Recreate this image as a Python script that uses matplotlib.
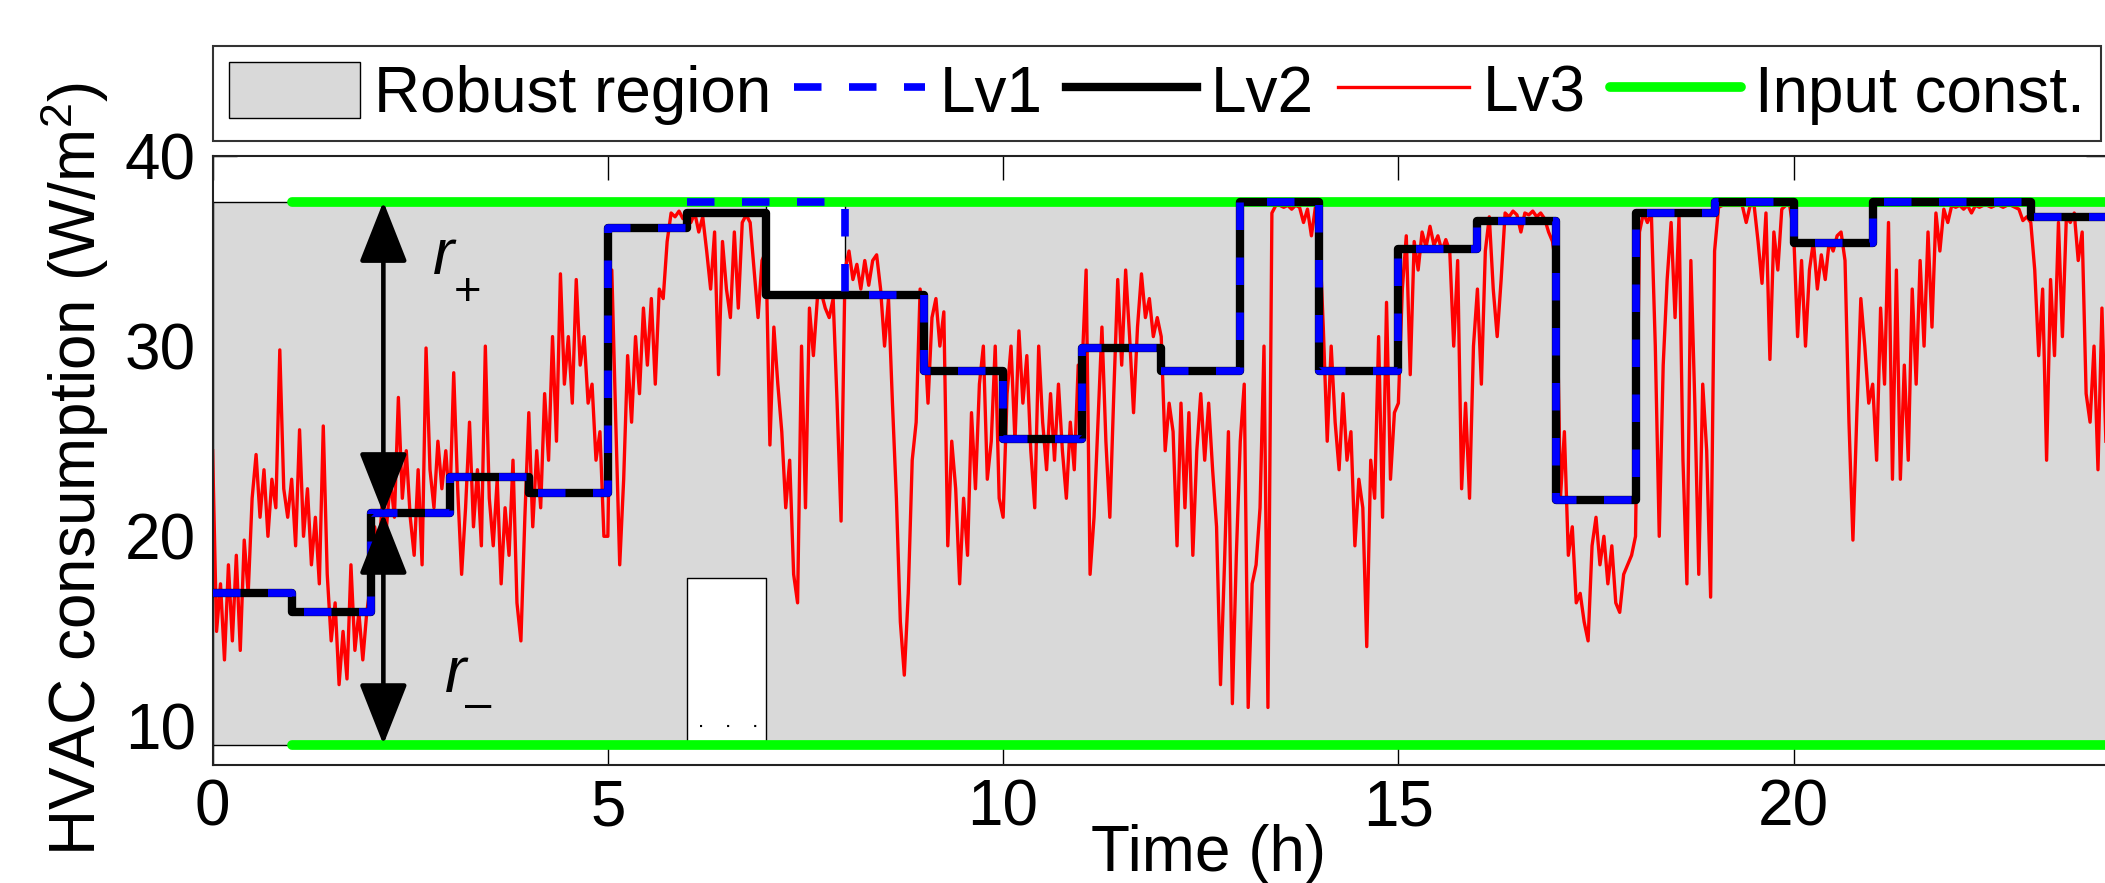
import numpy as np
import matplotlib
matplotlib.use("Agg")
from matplotlib import pyplot as plt

plt.rcParams['font.family'] = ['Liberation Sans', 'DejaVu Sans']
plt.rcParams['mathtext.fontset'] = 'custom'
plt.rcParams['mathtext.rm'] = 'Liberation Sans'
plt.rcParams['mathtext.it'] = 'Liberation Sans:italic'

# hourly set-points (one value per hour, 0..23)
hours = np.arange(25)
lv1 = [17.0, 16.0, 21.2, 23.1, 22.3, 36.2, 37.6, 37.6, 32.7, 28.7, 25.1, 29.9,
       28.7, 37.6, 28.7, 35.1, 36.6, 21.9, 37.0, 37.6, 35.4, 37.6, 37.6, 36.8]
lv2 = [17.0, 16.0, 21.2, 23.1, 22.3, 36.2, 37.0, 32.7, 32.7, 28.7, 25.1, 29.9,
       28.7, 37.6, 28.7, 35.1, 36.6, 21.9, 37.0, 37.6, 35.4, 37.6, 37.6, 36.8]

# robust region bounds per hour
region_upper = [37.6] * 7 + [32.7] + [37.6] * 16
region_lower = [9.05] * 6 + [17.8] + [9.05] * 17

# input constraints
const_t = [1, 24]
const_upper = 37.6
const_lower = 9.05

# Lv3, sampled every 3 minutes, one row per hour
lv3_rows = [
    [24.5, 15.0, 17.5, 13.5, 18.5, 14.5, 19.0, 14.0, 19.8, 17.0, 22.0, 24.3, 21.0, 23.5, 20.0, 23.0, 21.5, 29.8, 22.5, 21.0],
    [23.0, 19.5, 25.6, 20.0, 22.5, 18.5, 21.0, 17.5, 25.8, 18.0, 14.5, 16.5, 12.2, 15.0, 12.5, 18.5, 14.0, 16.0, 13.5, 16.0],
    [17.5, 20.5, 19.0, 22.0, 20.5, 23.0, 21.0, 27.3, 22.0, 24.5, 21.0, 19.0, 23.5, 18.5, 29.9, 23.5, 21.5, 25.0, 22.5, 24.5],
    [21.5, 28.6, 22.5, 18.0, 21.5, 26.0, 20.5, 23.5, 19.5, 30.0, 22.0, 19.5, 23.0, 17.5, 21.5, 19.0, 24.0, 16.5, 14.5, 21.0],
    [26.5, 20.5, 24.5, 21.5, 27.5, 24.0, 30.5, 25.0, 33.8, 28.0, 30.5, 27.0, 33.5, 29.0, 30.5, 27.0, 28.0, 24.0, 25.5, 20.0],
    [20.0, 34.0, 26.0, 18.5, 23.0, 29.5, 26.0, 30.5, 27.5, 32.0, 29.0, 32.5, 28.0, 33.0, 32.5, 35.5, 37.0, 36.8, 37.1, 36.7],
    [37.0, 36.5, 37.0, 36.0, 36.8, 35.0, 33.0, 36.0, 28.5, 35.5, 33.0, 31.5, 36.0, 32.0, 36.5, 36.9, 36.5, 34.0, 31.5, 34.5],
    [35.0, 24.8, 31.0, 28.0, 25.5, 21.5, 24.0, 18.0, 16.5, 30.0, 21.5, 32.0, 29.5, 32.5, 32.8, 32.0, 31.5, 32.5, 27.0, 20.8],
    [34.0, 35.0, 33.5, 34.3, 33.0, 34.5, 33.2, 34.5, 34.8, 33.0, 30.0, 32.5, 27.0, 22.0, 15.5, 12.7, 17.0, 24.0, 26.0, 33.0],
    [31.0, 27.0, 31.5, 32.5, 30.0, 31.8, 19.5, 25.0, 22.5, 17.5, 22.0, 19.0, 26.5, 22.5, 28.0, 30.0, 23.0, 25.0, 30.0, 22.0],
    [21.0, 27.5, 30.0, 25.0, 30.8, 27.0, 29.5, 24.5, 21.5, 30.0, 26.0, 23.5, 27.5, 24.0, 28.0, 24.5, 22.0, 26.0, 23.5, 29.0],
    [29.0, 34.0, 18.0, 21.0, 26.0, 31.0, 25.0, 21.0, 27.5, 33.5, 29.0, 34.0, 30.5, 26.5, 31.0, 33.8, 31.5, 32.5, 30.5, 31.5],
    [30.5, 24.5, 27.0, 25.5, 19.5, 27.0, 21.5, 26.5, 19.0, 24.5, 27.5, 24.0, 27.0, 23.5, 20.5, 12.2, 18.5, 25.5, 11.2, 19.0],
    [25.0, 28.0, 11.0, 17.5, 18.5, 21.5, 30.0, 11.0, 37.0, 37.4, 37.4, 37.3, 37.4, 37.2, 37.4, 37.3, 36.5, 37.2, 35.8, 37.3],
    [36.0, 31.0, 25.0, 30.0, 26.0, 23.5, 27.5, 24.0, 25.5, 19.5, 23.0, 21.5, 14.2, 24.0, 22.0, 30.5, 21.0, 32.3, 23.0, 26.5],
    [27.0, 33.0, 35.8, 28.5, 35.5, 34.0, 36.0, 35.2, 36.3, 35.3, 35.8, 35.0, 35.6, 35.0, 30.0, 34.5, 22.5, 27.0, 22.0, 30.0],
    [33.0, 28.0, 35.0, 36.8, 33.0, 30.5, 33.5, 37.0, 36.8, 37.1, 36.9, 36.0, 37.0, 36.9, 37.1, 36.8, 37.0, 36.7, 36.0, 35.5],
    [34.0, 22.0, 25.5, 19.0, 20.5, 16.5, 17.0, 15.5, 14.5, 19.5, 21.0, 18.5, 20.0, 17.5, 19.5, 16.5, 16.0, 18.0, 18.5, 19.0],
    [20.0, 36.0, 37.0, 36.5, 37.0, 30.0, 20.0, 29.0, 33.5, 36.5, 31.5, 36.8, 24.0, 17.5, 34.5, 27.0, 18.0, 28.0, 24.5, 16.8],
    [35.0, 37.3, 37.4, 37.4, 37.4, 37.4, 37.4, 37.4, 36.5, 37.4, 37.4, 35.5, 33.3, 37.0, 29.3, 36.0, 34.0, 37.2, 37.4, 37.4],
    [36.0, 30.5, 34.5, 30.0, 34.0, 35.5, 33.0, 34.8, 33.5, 35.5, 35.0, 35.8, 36.0, 34.5, 26.0, 19.8, 26.5, 32.5, 30.0, 27.0],
    [28.0, 24.0, 32.0, 28.0, 36.5, 23.0, 34.0, 23.0, 29.0, 24.0, 33.0, 28.0, 34.5, 30.0, 36.0, 31.0, 37.0, 35.0, 37.2, 36.5],
    [37.4, 37.3, 37.4, 37.2, 37.4, 37.0, 37.4, 37.3, 37.4, 37.4, 37.3, 37.4, 37.4, 37.3, 37.4, 37.4, 37.3, 37.2, 36.6, 36.8],
    [36.5, 34.0, 29.5, 33.0, 24.0, 33.5, 29.5, 36.5, 30.5, 36.8, 36.5, 37.0, 34.5, 36.0, 27.5, 26.0, 30.0, 23.5, 32.0, 25.0],
]
lv3 = np.concatenate(lv3_rows)
lv3_t = np.arange(len(lv3)) * 0.05

# dotted mark inside the lower notch
notch_dots_t = [6.17, 6.93]
notch_dots_v = 10.0

# r+/r- arrows
arrow_t = 2.16
arrow_base = lv2[2]

fs = 46
fig = plt.figure(figsize=(21.05, 8.83), dpi=100)
ax = fig.add_axes([0.101, 0.1342, 0.9013, 0.6892])

def step(v):
    return list(v) + [v[-1]]

region = ax.fill_between(hours, step(region_lower), step(region_upper), step='post',
                         facecolor='#d9d9d9', edgecolor='k', linewidth=1.0, zorder=1)
ax.plot(notch_dots_t, [notch_dots_v] * 2, color='k', linestyle=(0, (1, 12)), linewidth=1.5, zorder=1.5)

l3, = ax.plot(lv3_t, lv3, color='#ff0000', linewidth=2.4, zorder=2)
lc, = ax.plot(const_t, [const_upper] * 2, color='#00ff00', linewidth=7, solid_capstyle='round', zorder=3)
ax.plot(const_t, [const_lower] * 2, color='#00ff00', linewidth=7, solid_capstyle='round', zorder=3)
l2, = ax.plot(hours, step(lv2), drawstyle='steps-post', color='k', linewidth=6,
              solid_joinstyle='round', zorder=4)
l1, = ax.plot(hours, step(lv1), drawstyle='steps-post', color='#0000ff', linewidth=5.5,
              linestyle=(0, (3.6, 3.6)), zorder=5)

arrow_style = dict(arrowstyle='<|-|>,head_length=1.9,head_width=0.75', color='k', lw=3.3,
                   shrinkA=0, shrinkB=0, mutation_scale=20)
ax.annotate('', xy=(arrow_t, const_upper), xytext=(arrow_t, arrow_base), arrowprops=arrow_style, zorder=6)
ax.annotate('', xy=(arrow_t, const_lower), xytext=(arrow_t, arrow_base), arrowprops=arrow_style, zorder=6)

# r+ and r- labels (italic r with a lowered sign)
ax.text(2.92, 34.7, 'r', fontsize=fs, style='italic', ha='center', va='center', zorder=6)
ax.text(3.23, 32.8, '+', fontsize=34, ha='center', va='center', zorder=6)
ax.text(3.07, 12.7, 'r', fontsize=fs, style='italic', ha='center', va='center', zorder=6)
ax.text(3.36, 11.1, '\u2013', fontsize=34, ha='center', va='center', zorder=6)

ax.set_xlim(0, 24)
ax.set_ylim(8, 40)
ax.set_xticks([0, 5, 10, 15, 20])
ax.set_yticks([10, 20, 30, 40])
ax.set_axisbelow(True)
ax.tick_params(direction='in', length=17, width=1, top=True, right=True, labelsize=fs)
ax.tick_params(axis='x', pad=10)
ax.tick_params(axis='y', pad=12)
for s in ax.spines.values():
    s.set_linewidth(1.5)
    s.set_color('#222222')

ax.set_xlabel('Time (h)', fontsize=fs)
ax.xaxis.set_label_coords(0.5247, -0.097)
ax.set_ylabel('HVAC consumption (W/m$^2$)', fontsize=fs)
ax.yaxis.set_label_coords(-0.0535, 0.486)

leg = ax.legend([region, l1, l2, l3, lc], ['Robust region', 'Lv1', 'Lv2', 'Lv3', 'Input const.'],
                ncol=5, loc='lower left', bbox_to_anchor=(0, 1.0247), borderaxespad=0,
                fontsize=fs, frameon=True, fancybox=False, framealpha=1,
                handlelength=2.05, handletextpad=0.22, columnspacing=0.37,
                borderpad=0.25, handleheight=0.95)
leg.get_frame().set_edgecolor('#333333')
leg.get_frame().set_linewidth(1.5)

plt.savefig('out.png', dpi=100)
